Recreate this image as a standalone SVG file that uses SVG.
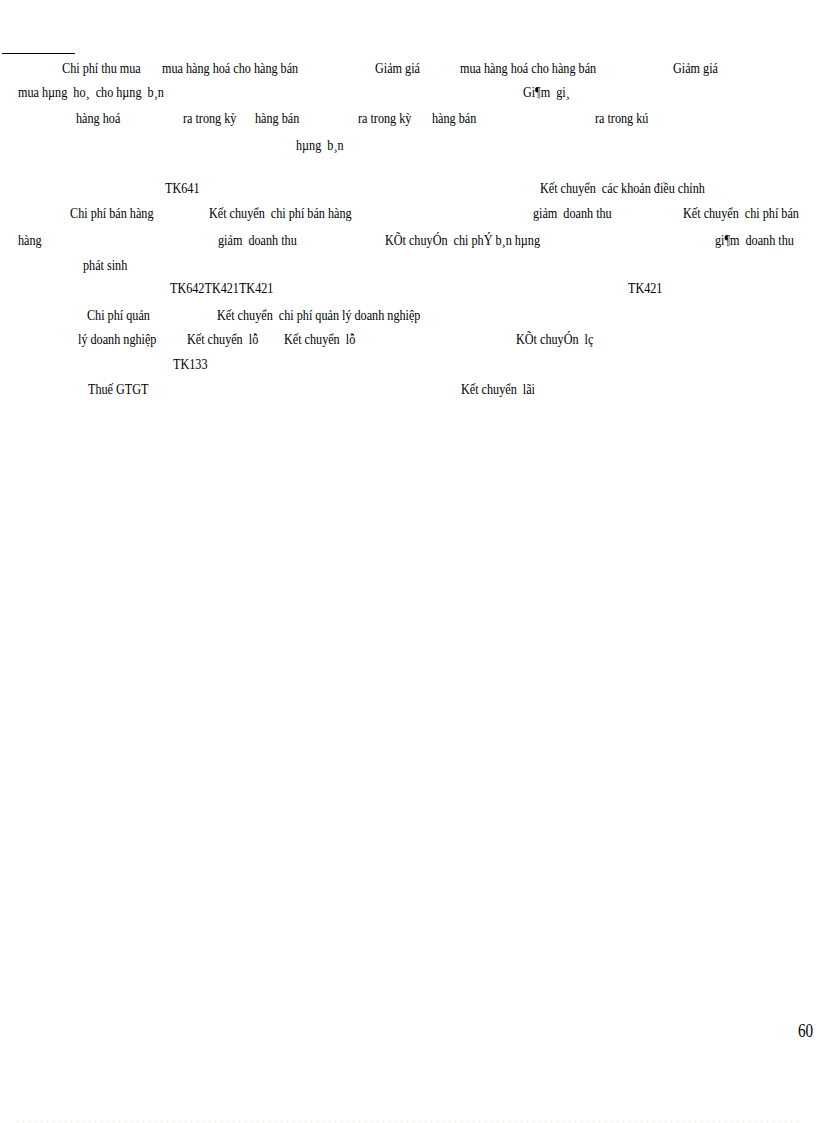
<svg xmlns="http://www.w3.org/2000/svg" width="816" height="1123" viewBox="0 0 816 1123">
<style>
text{font-family:"Liberation Serif","Times New Roman",serif;font-size:14px;fill:#000;white-space:pre}
.pg{font-size:19px}
</style>
<rect x="0" y="0" width="816" height="1123" fill="#fff"/>
<line x1="2" y1="53.5" x2="75" y2="53.5" stroke="#000" stroke-width="1"/>
<g id="labels" transform="scale(0.87,1)">
<text x="71.3" y="73">Chi phí thu mua</text>
<text x="186.2" y="73">mua hàng hoá cho hàng bán</text>
<text x="431" y="73">Giảm giá</text>
<text x="528.7" y="73">mua hàng hoá cho hàng bán</text>
<text x="773.6" y="73">Giảm giá</text>
<text x="20.7" y="97">mua hµng  ho¸  cho hµng  b¸n</text>
<text x="601.1" y="97">Gi¶m  gi¸</text>
<text x="87.4" y="123">hàng hoá</text>
<text x="210.3" y="123">ra trong kỳ</text>
<text x="293.1" y="123">hàng bán</text>
<text x="411.5" y="123">ra trong kỳ</text>
<text x="496.6" y="123">hàng bán</text>
<text x="683.9" y="123">ra trong kú</text>
<text x="340.2" y="150">hµng  b¸n</text>
<text x="189.7" y="193">TK641</text>
<text x="620.7" y="193">Kết chuyển  các khoản điều chỉnh</text>
<text x="80.5" y="218">Chi phí bán hàng</text>
<text x="240.2" y="218">Kết chuyển  chi phí bán hàng</text>
<text x="612.6" y="218">giảm  doanh thu</text>
<text x="785.1" y="218">Kết chuyển  chi phí bán</text>
<text x="20.7" y="245">hàng</text>
<text x="250.6" y="245">giảm  doanh thu</text>
<text x="442.5" y="245">KÕt chuyÓn  chi phÝ b¸n hµng</text>
<text x="821.8" y="245">gi¶m  doanh thu</text>
<text x="95.4" y="270">phát sinh</text>
<text x="195.4" y="293">TK642TK421TK421</text>
<text x="721.8" y="293">TK421</text>
<text x="100" y="320">Chi phí quản</text>
<text x="249.4" y="320">Kết chuyển  chi phí quản lý doanh nghiệp</text>
<text x="89.7" y="344">lý doanh nghiệp</text>
<text x="214.9" y="344">Kết chuyển  lỗ</text>
<text x="326.4" y="344">Kết chuyển  lỗ</text>
<text x="593.1" y="344">KÕt chuyÓn  lç</text>
<text x="198.9" y="369">TK133</text>
<text x="101.1" y="394">Thuế GTGT</text>
<text x="529.9" y="394">Kết chuyển  lãi</text>
</g>
<g id="page" transform="scale(0.8,1)">
<text class="pg" x="997.5" y="1037">60</text>
</g>
<line x1="17" y1="1121.5" x2="800" y2="1121.5" stroke="#b8f0b0" stroke-width="1" stroke-dasharray="1,5"/>
</svg>
